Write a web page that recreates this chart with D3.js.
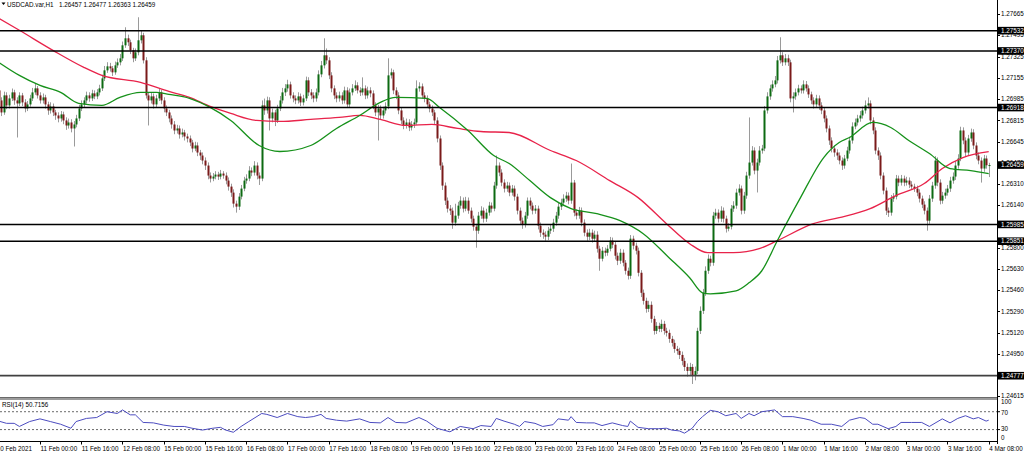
<!DOCTYPE html>
<html><head><meta charset="utf-8">
<script src="https://cdn.jsdelivr.net/npm/d3@7/dist/d3.min.js"></script>
<style>
html,body{margin:0;padding:0;background:#fff;}
svg{display:block;}
text{font-family:"Liberation Sans",Arial,sans-serif;font-size:6.3px;fill:#000;}
</style></head><body>
<svg id="chart" width="1024" height="453"></svg>
<script>
// ---------- data ----------
const symbolLabel = "USDCAD.var,H1";
const ohlcLabel = "1.26457 1.26477 1.26363 1.26459";
const rsiLabel = "RSI(14) 50.7156";

const timeLabelBars = [0,16,32,48,64,80,96,112,128,144,160,176,192,208,224,240,256,272,288,304,320,336,352,368,384];
const timeLabels = ["10 Feb 2021","11 Feb 00:00","11 Feb 16:00","12 Feb 08:00","15 Feb 00:00","15 Feb 16:00","16 Feb 08:00","17 Feb 00:00","17 Feb 16:00","18 Feb 08:00","19 Feb 00:00","19 Feb 16:00","22 Feb 08:00","23 Feb 00:00","23 Feb 16:00","24 Feb 08:00","25 Feb 00:00","25 Feb 16:00","26 Feb 08:00","1 Mar 00:00","1 Mar 16:00","2 Mar 08:00","3 Mar 00:00","3 Mar 16:00","4 Mar 08:00"];

const priceTicks = ["1.27665","1.27495","1.27325","1.27155","1.26985","1.26815","1.26645","1.26475","1.26310","1.26140","1.25970","1.25800","1.25630","1.25460","1.25290","1.25120","1.24950","1.24780","1.24615"];
const levels = [1.27532,1.27370,1.26918,1.25985,1.25851,1.24777];
const currentPrice = 1.26459;

const opens = [1.27055,
1.26975,1.26879,1.27015,1.26935,1.26991,1.27039,1.26975,1.26951,1.27015,1.26959,
1.26911,1.26943,1.26991,1.27039,1.27071,1.27015,1.26975,1.26999,1.26943,1.26895,
1.26927,1.26879,1.26855,1.26831,1.26863,1.26815,1.26775,1.26799,1.26751,1.26783,
1.26831,1.26911,1.26943,1.26975,1.27015,1.26991,1.27031,1.27007,1.27039,1.27071,
1.27151,1.27215,1.27247,1.27231,1.27199,1.27255,1.27279,1.27311,1.27415,1.27471,
1.27439,1.27375,1.27311,1.27359,1.27455,1.27495,1.27295,1.27015,1.26975,1.27007,
1.26943,1.26991,1.27039,1.26975,1.26911,1.26879,1.26831,1.26783,1.26735,1.26751,
1.26703,1.26719,1.26687,1.26671,1.26639,1.26591,1.26615,1.26559,1.26535,1.26495,
1.26455,1.26375,1.26351,1.26367,1.26383,1.26367,1.26391,1.26375,1.26335,1.26287,
1.26239,1.26151,1.26127,1.26207,1.26271,1.26335,1.26351,1.26415,1.26399,1.26455,
1.26375,1.26351,1.26935,1.26895,1.26975,1.26831,1.26879,1.26815,1.26911,1.26975,
1.27039,1.27071,1.27103,1.27015,1.26991,1.26975,1.27007,1.26959,1.26991,1.27135,
1.27039,1.27015,1.26991,1.27039,1.27183,1.27255,1.27335,1.27295,1.27175,1.27071,
1.27015,1.26991,1.27015,1.26975,1.27055,1.26943,1.27039,1.27071,1.27095,1.27055,
1.27039,1.27071,1.27015,1.27055,1.27031,1.26935,1.26879,1.26911,1.26855,1.26895,
1.26927,1.27175,1.27199,1.27055,1.27015,1.26895,1.26815,1.26775,1.26799,1.26759,
1.26783,1.26799,1.27071,1.27087,1.27015,1.26991,1.26943,1.26911,1.26879,1.26815,
1.26671,1.26455,1.26295,1.26175,1.26111,1.26095,1.25999,1.26055,1.26135,1.26175,
1.26111,1.26175,1.26095,1.26031,1.25967,1.25935,1.26055,1.26095,1.26031,1.26079,
1.26135,1.26111,1.26295,1.26455,1.26399,1.26319,1.26271,1.26295,1.26239,1.26271,
1.26207,1.26095,1.26015,1.25983,1.26055,1.26175,1.26135,1.26095,1.26111,1.25975,
1.25919,1.25903,1.25887,1.25935,1.25951,1.25999,1.26055,1.26127,1.26159,1.26191,
1.26215,1.26175,1.26319,1.26079,1.26055,1.26095,1.25999,1.25919,1.25887,1.25919,
1.25871,1.25903,1.25791,1.25711,1.25775,1.25759,1.25791,1.25855,1.25823,1.25735,
1.25695,1.25759,1.25679,1.25615,1.25575,1.25871,1.25815,1.25775,1.25599,1.25439,
1.25375,1.25311,1.25343,1.25231,1.25135,1.25175,1.25151,1.25191,1.25135,1.25119,
1.25071,1.25039,1.24991,1.24975,1.24943,1.24895,1.24847,1.24815,1.24847,1.24775,
1.24815,1.25135,1.25295,1.25439,1.25615,1.25711,1.25679,1.26055,1.26079,1.26031,
1.26095,1.26031,1.25951,1.25967,1.26111,1.26135,1.26239,1.26271,1.26095,1.26215,
1.26375,1.26479,1.26575,1.26415,1.26479,1.26575,1.26591,1.26895,1.27007,1.27071,
1.27103,1.27135,1.27295,1.27335,1.27279,1.27311,1.27279,1.26991,1.27007,1.27039,
1.27071,1.27055,1.27103,1.27071,1.27023,1.26975,1.26943,1.26991,1.26935,1.26895,
1.26831,1.26751,1.26655,1.26591,1.26559,1.26535,1.26495,1.26455,1.26511,1.26575,
1.26655,1.26767,1.26799,1.26831,1.26855,1.26895,1.26935,1.26951,1.26815,1.26735,
1.26575,1.26535,1.26375,1.26255,1.26095,1.26079,1.26191,1.26207,1.26351,1.26319,
1.26351,1.26319,1.26335,1.26303,1.26287,1.26271,1.26239,1.26191,1.26143,1.26095,
1.26015,1.26191,1.26295,1.26495,1.26319,1.26175,1.26215,1.26239,1.26271,1.26335,
1.26367,1.26455,1.26511,1.26735,1.26655,1.26559,1.26671,1.26719,1.26615,1.26535,
1.26495,1.26431,1.26511,1.26457];

const closes = [
1.26975,1.26879,1.27015,1.26935,1.26991,1.27039,1.26975,1.26951,1.27015,1.26959,
1.26911,1.26943,1.26991,1.27039,1.27071,1.27015,1.26975,1.26999,1.26943,1.26895,
1.26927,1.26879,1.26855,1.26831,1.26863,1.26815,1.26775,1.26799,1.26751,1.26783,
1.26831,1.26911,1.26943,1.26975,1.27015,1.26991,1.27031,1.27007,1.27039,1.27071,
1.27151,1.27215,1.27247,1.27231,1.27199,1.27255,1.27279,1.27311,1.27415,1.27471,
1.27439,1.27375,1.27311,1.27359,1.27455,1.27495,1.27295,1.27015,1.26975,1.27007,
1.26943,1.26991,1.27039,1.26975,1.26911,1.26879,1.26831,1.26783,1.26735,1.26751,
1.26703,1.26719,1.26687,1.26671,1.26639,1.26591,1.26615,1.26559,1.26535,1.26495,
1.26455,1.26375,1.26351,1.26367,1.26383,1.26367,1.26391,1.26375,1.26335,1.26287,
1.26239,1.26151,1.26127,1.26207,1.26271,1.26335,1.26351,1.26415,1.26399,1.26455,
1.26375,1.26351,1.26935,1.26895,1.26975,1.26831,1.26879,1.26815,1.26911,1.26975,
1.27039,1.27071,1.27103,1.27015,1.26991,1.26975,1.27007,1.26959,1.26991,1.27135,
1.27039,1.27015,1.26991,1.27039,1.27183,1.27255,1.27335,1.27295,1.27175,1.27071,
1.27015,1.26991,1.27015,1.26975,1.27055,1.26943,1.27039,1.27071,1.27095,1.27055,
1.27039,1.27071,1.27015,1.27055,1.27031,1.26935,1.26879,1.26911,1.26855,1.26895,
1.26927,1.27175,1.27199,1.27055,1.27015,1.26895,1.26815,1.26775,1.26799,1.26759,
1.26783,1.26799,1.27071,1.27087,1.27015,1.26991,1.26943,1.26911,1.26879,1.26815,
1.26671,1.26455,1.26295,1.26175,1.26111,1.26095,1.25999,1.26055,1.26135,1.26175,
1.26111,1.26175,1.26095,1.26031,1.25967,1.25935,1.26055,1.26095,1.26031,1.26079,
1.26135,1.26111,1.26295,1.26455,1.26399,1.26319,1.26271,1.26295,1.26239,1.26271,
1.26207,1.26095,1.26015,1.25983,1.26055,1.26175,1.26135,1.26095,1.26111,1.25975,
1.25919,1.25903,1.25887,1.25935,1.25951,1.25999,1.26055,1.26127,1.26159,1.26191,
1.26215,1.26175,1.26319,1.26079,1.26055,1.26095,1.25999,1.25919,1.25887,1.25919,
1.25871,1.25903,1.25791,1.25711,1.25775,1.25759,1.25791,1.25855,1.25823,1.25735,
1.25695,1.25759,1.25679,1.25615,1.25575,1.25871,1.25815,1.25775,1.25599,1.25439,
1.25375,1.25311,1.25343,1.25231,1.25135,1.25175,1.25151,1.25191,1.25135,1.25119,
1.25071,1.25039,1.24991,1.24975,1.24943,1.24895,1.24847,1.24815,1.24847,1.24775,
1.24815,1.25135,1.25295,1.25439,1.25615,1.25711,1.25679,1.26055,1.26079,1.26031,
1.26095,1.26031,1.25951,1.25967,1.26111,1.26135,1.26239,1.26271,1.26095,1.26215,
1.26375,1.26479,1.26575,1.26415,1.26479,1.26575,1.26591,1.26895,1.27007,1.27071,
1.27103,1.27135,1.27295,1.27335,1.27279,1.27311,1.27279,1.26991,1.27007,1.27039,
1.27071,1.27055,1.27103,1.27071,1.27023,1.26975,1.26943,1.26991,1.26935,1.26895,
1.26831,1.26751,1.26655,1.26591,1.26559,1.26535,1.26495,1.26455,1.26511,1.26575,
1.26655,1.26767,1.26799,1.26831,1.26855,1.26895,1.26935,1.26951,1.26815,1.26735,
1.26575,1.26535,1.26375,1.26255,1.26095,1.26079,1.26191,1.26207,1.26351,1.26319,
1.26351,1.26319,1.26335,1.26303,1.26287,1.26271,1.26239,1.26191,1.26143,1.26095,
1.26015,1.26191,1.26295,1.26495,1.26319,1.26175,1.26215,1.26239,1.26271,1.26335,
1.26367,1.26455,1.26511,1.26735,1.26655,1.26559,1.26671,1.26719,1.26615,1.26535,
1.26495,1.26431,1.26511,1.26457,1.26459];

const highs = [
1.27111,1.27000,1.27045,1.27040,1.27020,1.27070,1.27060,1.27000,1.27040,1.27035,
1.26985,1.26970,1.27020,1.27075,1.27110,1.27090,1.27040,1.27030,1.27020,1.26965,
1.26960,1.26950,1.26900,1.26880,1.26890,1.26885,1.26840,1.26830,1.26825,1.26810,
1.26860,1.26940,1.26975,1.27000,1.27045,1.27040,1.27060,1.27055,1.27065,1.27100,
1.27180,1.27250,1.27280,1.27275,1.27250,1.27285,1.27310,1.27345,1.27445,1.27559,
1.27500,1.27460,1.27395,1.27390,1.27639,1.27530,1.27515,1.27320,1.27040,1.27040,
1.27030,1.27020,1.27070,1.27060,1.27000,1.26935,1.26900,1.26855,1.26810,1.26780,
1.26775,1.26750,1.26740,1.26710,1.26695,1.26660,1.26645,1.26640,1.26580,1.26560,
1.26520,1.26480,1.26400,1.26395,1.26410,1.26405,1.26420,1.26410,1.26400,1.26360,
1.26310,1.26265,1.26175,1.26235,1.26300,1.26365,1.26385,1.26450,1.26440,1.26490,
1.26480,1.26400,1.26975,1.26990,1.27005,1.27000,1.26910,1.26900,1.26940,1.27010,
1.27075,1.27105,1.27140,1.27125,1.27040,1.27015,1.27040,1.27030,1.27020,1.27165,
1.27160,1.27065,1.27040,1.27070,1.27215,1.27290,1.27471,1.27390,1.27320,1.27200,
1.27095,1.27040,1.27045,1.27040,1.27085,1.27080,1.27070,1.27105,1.27135,1.27120,
1.27080,1.27159,1.27095,1.27085,1.27080,1.27055,1.26960,1.26940,1.26935,1.26925,
1.26960,1.27311,1.27230,1.27220,1.27080,1.27040,1.26920,1.26840,1.26830,1.26825,
1.26810,1.26830,1.27135,1.27120,1.27110,1.27040,1.27015,1.26965,1.26935,1.26900,
1.26840,1.26695,1.26480,1.26320,1.26200,1.26140,1.26120,1.26150,1.26165,1.26210,
1.26200,1.26205,1.26200,1.26120,1.26055,1.25990,1.26085,1.26130,1.26120,1.26110,
1.26165,1.26160,1.26325,1.26535,1.26480,1.26425,1.26345,1.26325,1.26320,1.26300,
1.26295,1.26230,1.26120,1.26040,1.26085,1.26200,1.26200,1.26160,1.26140,1.26135,
1.26000,1.25945,1.25930,1.25965,1.25980,1.26030,1.26085,1.26160,1.26190,1.26225,
1.26245,1.26240,1.26471,1.26340,1.26105,1.26125,1.26120,1.26025,1.25945,1.25950,
1.25945,1.25935,1.25930,1.25815,1.25805,1.25800,1.25820,1.25885,1.25880,1.25850,
1.25760,1.25790,1.25785,1.25700,1.25640,1.25900,1.25895,1.25840,1.25800,1.25620,
1.25465,1.25400,1.25375,1.25370,1.25255,1.25205,1.25200,1.25225,1.25215,1.25160,
1.25145,1.25095,1.25065,1.25015,1.25000,1.24970,1.24920,1.24875,1.24880,1.24870,
1.24850,1.25160,1.25330,1.25470,1.25650,1.25745,1.25735,1.26085,1.26110,1.26105,
1.26130,1.26120,1.26055,1.25995,1.26140,1.26170,1.26270,1.26305,1.26295,1.26245,
1.26405,1.26839,1.26610,1.26600,1.26510,1.26610,1.26620,1.26930,1.27040,1.27100,
1.27135,1.27170,1.27330,1.27479,1.27360,1.27345,1.27340,1.27300,1.27040,1.27070,
1.27100,1.27095,1.27135,1.27130,1.27095,1.27045,1.27000,1.27020,1.27015,1.26960,
1.26920,1.26855,1.26775,1.26680,1.26615,1.26585,1.26560,1.26520,1.26540,1.26605,
1.26685,1.26800,1.26830,1.26860,1.26890,1.26925,1.26975,1.26999,1.26975,1.26840,
1.26760,1.26600,1.26560,1.26400,1.26280,1.26120,1.26220,1.26235,1.26380,1.26375,
1.26380,1.26375,1.26365,1.26360,1.26330,1.26310,1.26295,1.26265,1.26215,1.26170,
1.26120,1.26220,1.26325,1.26530,1.26520,1.26345,1.26245,1.26270,1.26300,1.26365,
1.26400,1.26490,1.26545,1.26765,1.26760,1.26680,1.26700,1.26750,1.26745,1.26640,
1.26560,1.26520,1.26540,1.26535,1.26477];

const lows = [
1.26775,1.26850,1.26860,1.26905,1.26910,1.26970,1.26940,1.26679,1.26930,1.26930,
1.26880,1.26890,1.26925,1.26970,1.27020,1.26990,1.26950,1.26950,1.26910,1.26860,
1.26870,1.26850,1.26820,1.26800,1.26805,1.26785,1.26740,1.26750,1.26720,1.26607,
1.26760,1.26810,1.26890,1.26920,1.26950,1.26965,1.26970,1.26985,1.26985,1.27015,
1.27050,1.27130,1.27195,1.27205,1.27170,1.27180,1.27235,1.27255,1.27290,1.27395,
1.27410,1.27345,1.27280,1.27290,1.27335,1.27430,1.27270,1.26990,1.26775,1.26950,
1.26910,1.26920,1.26970,1.26945,1.26880,1.26850,1.26800,1.26750,1.26705,1.26710,
1.26670,1.26680,1.26655,1.26640,1.26610,1.26560,1.26570,1.26530,1.26500,1.26465,
1.26420,1.26345,1.26320,1.26330,1.26345,1.26340,1.26345,1.26350,1.26305,1.26255,
1.26205,1.26120,1.26079,1.26100,1.26185,1.26250,1.26310,1.26330,1.26370,1.26375,
1.26345,1.26300,1.26330,1.26860,1.26870,1.26735,1.26800,1.26770,1.26795,1.26890,
1.26950,1.27010,1.27045,1.26990,1.26960,1.26945,1.26950,1.26930,1.26935,1.26970,
1.27010,1.26985,1.26960,1.26965,1.27015,1.27160,1.27230,1.27265,1.27145,1.27040,
1.26985,1.26960,1.26965,1.26945,1.26950,1.26915,1.26920,1.27015,1.27050,1.27030,
1.27010,1.27015,1.26985,1.26990,1.27000,1.26905,1.26850,1.26655,1.26820,1.26830,
1.26870,1.26905,1.27150,1.27025,1.26985,1.26865,1.26785,1.26745,1.26750,1.26730,
1.26735,1.26755,1.26780,1.27045,1.26990,1.26960,1.26915,1.26880,1.26850,1.26785,
1.26640,1.26420,1.26260,1.26140,1.26080,1.26060,1.25950,1.25975,1.26030,1.26110,
1.26080,1.26090,1.26070,1.26000,1.25935,1.25799,1.25910,1.26030,1.26000,1.26005,
1.26055,1.26080,1.26090,1.26270,1.26370,1.26290,1.26240,1.26245,1.26210,1.26215,
1.26175,1.26065,1.25985,1.25950,1.25960,1.26030,1.26105,1.26065,1.26070,1.25945,
1.25885,1.25870,1.25855,1.25860,1.25910,1.25925,1.25975,1.26030,1.26100,1.26135,
1.26165,1.26145,1.26150,1.26050,1.26025,1.26030,1.25970,1.25890,1.25855,1.25860,
1.25840,1.25845,1.25760,1.25615,1.25690,1.25730,1.25735,1.25770,1.25795,1.25705,
1.25660,1.25670,1.25650,1.25585,1.25545,1.25550,1.25785,1.25745,1.25570,1.25405,
1.25345,1.25280,1.25285,1.25200,1.25105,1.25110,1.25125,1.25125,1.25105,1.25090,
1.25040,1.25010,1.24960,1.24945,1.24910,1.24860,1.24815,1.24770,1.24780,1.24711,
1.24740,1.24790,1.25110,1.25270,1.25415,1.25590,1.25650,1.25655,1.26030,1.26000,
1.26005,1.26000,1.25920,1.25930,1.25945,1.26085,1.26110,1.26215,1.26065,1.26070,
1.26190,1.26350,1.26455,1.26385,1.26240,1.26455,1.26550,1.26570,1.26870,1.26980,
1.27045,1.27080,1.27110,1.27270,1.27250,1.27255,1.27250,1.26960,1.26879,1.26980,
1.27015,1.27030,1.27030,1.27045,1.26995,1.26945,1.26910,1.26920,1.26900,1.26865,
1.26800,1.26720,1.26620,1.26560,1.26525,1.26500,1.26465,1.26420,1.26430,1.26490,
1.26550,1.26630,1.26745,1.26775,1.26805,1.26830,1.26870,1.26910,1.26785,1.26705,
1.26545,1.26500,1.26345,1.26225,1.26060,1.26045,1.26055,1.26165,1.26185,1.26290,
1.26295,1.26290,1.26295,1.26275,1.26260,1.26245,1.26210,1.26160,1.26115,1.26065,
1.25935,1.25990,1.26165,1.26270,1.26290,1.26145,1.26150,1.26190,1.26215,1.26245,
1.26310,1.26340,1.26430,1.26490,1.26625,1.26530,1.26535,1.26645,1.26585,1.26505,
1.26465,1.26319,1.26405,1.26430,1.26363];

// slow moving average (red), read at sample bars
const redMaBars = [0,8,21,33,40,55,66,74,82,90,100,109,121,132,140,148,158,168,178,187,198,214,224,237,248,259,268,275,285,295,302,316,326,338,348,359,366,374,384];
const redMa = [1.27631,1.27535,1.27375,1.27239,1.27175,1.27119,1.27047,1.26999,1.26927,1.26871,1.26815,1.26807,1.26823,1.26839,1.26855,1.26823,1.26775,1.26783,1.26751,1.26727,1.26719,1.26575,1.26495,1.26335,1.26199,1.25991,1.25831,1.25759,1.25759,1.25791,1.25855,1.25991,1.26039,1.26111,1.26215,1.26311,1.26431,1.26519,1.26567];

// fast moving average (green)
const greenMaBars = [0,8,16,24,31,40,47,55,61,66,74,82,90,101,109,121,131,140,148,154,166,171,182,192,198,206,214,222,232,241,250,260,268,273,276,286,291,296,302,311,320,326,330,339,346,353,361,369,377,384];
const greenMa = [1.27279,1.27175,1.27095,1.27039,1.26951,1.26935,1.26999,1.27039,1.27039,1.27023,1.26991,1.26919,1.26815,1.26615,1.26567,1.26615,1.26751,1.26855,1.26959,1.26999,1.26991,1.26919,1.26735,1.26535,1.26471,1.26335,1.26199,1.26111,1.26071,1.26015,1.25911,1.25719,1.25559,1.25439,1.25431,1.25455,1.25519,1.25615,1.25855,1.26199,1.26519,1.26639,1.26679,1.26799,1.26759,1.26655,1.26551,1.26431,1.26415,1.26391];

// RSI(14)
const rsiBars = [0,3,6,8,12,16,20,24,28,30,34,38,42,46,48,51,53,56,60,64,68,72,75,79,83,86,88,91,94,97,102,104,108,112,116,119,122,125,127,131,135,140,144,148,151,154,158,163,166,170,175,179,184,187,191,193,196,200,202,204,208,211,215,217,221,222,224,228,231,234,238,242,244,245,248,252,256,259,261,264,266,269,271,273,276,279,282,286,288,291,293,296,301,304,308,312,315,319,323,327,330,334,336,339,341,345,348,350,354,358,361,366,369,372,375,378,380,383,384];
const rsiValues = [49,44,44,37,48,54,48,42,33,48,55,57,70,66,74,63,63,46,45,40,37,37,33,29,33,35,29,24,37,48,66,64,57,66,59,57,59,64,55,51,49,54,46,45,57,46,45,57,49,33,25,37,32,39,37,55,49,42,37,48,44,37,41,54,51,59,46,45,45,39,45,39,37,49,35,32,32,33,29,27,22,33,48,59,73,70,61,66,55,66,61,70,74,59,59,55,51,42,42,37,51,57,55,42,42,32,37,46,46,46,37,54,45,55,61,54,57,49,51];
const rsiLevels = [70,30];
const rsiTicks = [100,70,30,0];

// ---------- drawing ----------
const svg = d3.select("#chart");
const W = 1024, H = 453;
const axisX = 997;
const mainTop = 0, mainBottom = 397;
const rsiTop = 400, rsiBottom = 441;

const x = d3.scaleLinear().domain([0, 384]).range([-1.25, 988.7]);
const y = d3.scaleLinear().domain([1.24615, 1.27665]).range([396, 14]);
const yR = d3.scaleLinear().domain([0, 100]).range([443, 398.3]);

const defs = svg.append("defs");
defs.append("clipPath").attr("id","clipMain").append("rect")
  .attr("x",0).attr("y",mainTop).attr("width",axisX).attr("height",mainBottom-mainTop);
defs.append("clipPath").attr("id","clipRsi").append("rect")
  .attr("x",0).attr("y",rsiTop).attr("width",axisX).attr("height",rsiBottom-rsiTop);

svg.append("rect").attr("width",W).attr("height",H).attr("fill","#fff");

const main = svg.append("g").attr("clip-path","url(#clipMain)");

// candles
const bars = d3.range(closes.length).map(i => ({i, o:opens[i], h:highs[i], l:lows[i], c:closes[i]}));
const cg = main.append("g");
cg.selectAll("line.wick").data(bars).join("line")
  .attr("class","wick")
  .attr("x1", d => Math.round(x(d.i)) + 0.5).attr("x2", d => Math.round(x(d.i)) + 0.5)
  .attr("y1", d => y(d.h)).attr("y2", d => y(d.l))
  .attr("stroke","#9a9a9a").attr("stroke-width",1);
cg.selectAll("rect.body").data(bars).join("rect")
  .attr("class","body")
  .attr("x", d => Math.round(x(d.i)) - 0.5)
  .attr("width", 2)
  .attr("y", d => y(Math.max(d.o, d.c)))
  .attr("height", d => Math.max(1, Math.abs(y(d.o) - y(d.c))))
  .attr("fill", d => d.c >= d.o ? "#0d6a12" : "#7a1a1a");

// moving averages
const maLine = d3.line().curve(d3.curveMonotoneX);
main.append("path")
  .attr("d", maLine(redMaBars.map((b,k) => [x(b), y(redMa[k])])))
  .attr("fill","none").attr("stroke","#e8234a").attr("stroke-width",1.3);
main.append("path")
  .attr("d", maLine(greenMaBars.map((b,k) => [x(b), y(greenMa[k])])))
  .attr("fill","none").attr("stroke","#16911a").attr("stroke-width",1.3);

// horizontal levels
main.selectAll("line.level").data(levels).join("line")
  .attr("class","level")
  .attr("x1",0).attr("x2",axisX)
  .attr("y1", d => y(d)).attr("y2", d => y(d))
  .attr("stroke", d => d === 1.24777 ? "#404040" : "#000")
  .attr("stroke-width", d => d === 1.24777 ? 1.8 : 1.5);

// header
svg.append("path").attr("d","M1.5,2.5 L5.5,2.5 L3.5,5 Z").attr("fill","#000");
svg.append("text").attr("x",7).attr("y",6.5).text(symbolLabel);
svg.append("text").attr("x",59).attr("y",6.5).text(ohlcLabel);

// panel separator
svg.append("rect").attr("x",0).attr("y",397).attr("width",axisX).attr("height",3).attr("fill","#9c9c9c");
svg.append("line").attr("x1",0).attr("x2",axisX).attr("y1",397.5).attr("y2",397.5).attr("stroke","#6a6a6a");

// RSI panel
const rg = svg.append("g").attr("clip-path","url(#clipRsi)");
rg.selectAll("line.rl").data(rsiLevels).join("line")
  .attr("class","rl")
  .attr("x1",0).attr("x2",axisX)
  .attr("y1", d => yR(d)).attr("y2", d => yR(d))
  .attr("stroke","#444").attr("stroke-width",0.8).attr("stroke-dasharray","2,2");
rg.append("path")
  .attr("d", d3.line()(rsiBars.map((b,k) => [x(b), yR(rsiValues[k])])))
  .attr("fill","none").attr("stroke","#4c4cc0").attr("stroke-width",1);
svg.append("text").attr("x",2).attr("y",407).text(rsiLabel);

// bottom border of RSI panel
svg.append("line").attr("x1",0).attr("x2",axisX).attr("y1",441.5).attr("y2",441.5).attr("stroke","#000");

// vertical price axis line
svg.append("line").attr("x1",axisX+0.5).attr("x2",axisX+0.5).attr("y1",0).attr("y2",444).attr("stroke","#000");

// price ticks and labels
const pt = svg.append("g");
pt.selectAll("line").data(priceTicks).join("line")
  .attr("x1",axisX).attr("x2",axisX+3)
  .attr("y1", d => Math.round(y(+d))+0.5).attr("y2", d => Math.round(y(+d))+0.5)
  .attr("stroke","#000");
pt.selectAll("text").data(priceTicks).join("text")
  .attr("x",1001).attr("y", d => y(+d) + 2.2).text(d => d);

// level price boxes (on top of tick labels, as in the terminal)
const boxVals = levels.concat([currentPrice]);
const bg = svg.append("g");
bg.selectAll("rect").data(boxVals).join("rect")
  .attr("x",axisX+1).attr("width",W-axisX-1)
  .attr("y", d => y(d) - 3.8).attr("height",7.6)
  .attr("fill","#000");
bg.selectAll("text").data(boxVals).join("text")
  .attr("x",1001).attr("y", d => y(d) + 2.2)
  .style("fill","#fff").text(d => d.toFixed(5));

// RSI scale labels
const rsiLabelY = {100:404, 70:414.5, 30:431, 0:440};
svg.selectAll("text.rsit").data(rsiTicks).join("text")
  .attr("class","rsit").attr("x",1001).attr("y", d => rsiLabelY[d]).text(d => d);
svg.selectAll("line.rsitk").data([70,30]).join("line")
  .attr("class","rsitk").attr("x1",axisX).attr("x2",axisX+3)
  .attr("y1", d => yR(d)).attr("y2", d => yR(d)).attr("stroke","#000");

// time axis
const tg = svg.append("g");
tg.selectAll("line").data(timeLabelBars).join("line")
  .attr("x1", d => Math.round(x(d))+0.5).attr("x2", d => Math.round(x(d))+0.5)
  .attr("y1",441).attr("y2",444.5).attr("stroke","#000");
tg.selectAll("text").data(timeLabelBars).join("text")
  .attr("x", (d,k) => k === 0 ? x(d) - 2 : x(d) + 0.5)
  .attr("y",450.5)
  .text((d,k) => timeLabels[k]);
</script>
</body></html>
